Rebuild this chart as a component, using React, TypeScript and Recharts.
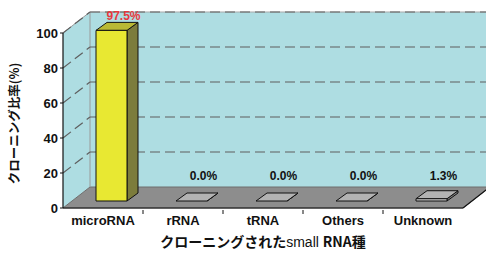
import React from 'react';
import { BarChart, Bar, XAxis, YAxis, CartesianGrid, LabelList } from 'recharts';

const categories = ['microRNA', 'rRNA', 'tRNA', 'Others', 'Unknown'];
const percentages = [97.5, 0.0, 0.0, 0.0, 1.3];
const valueLabels = ['97.5%', '0.0%', '0.0%', '0.0%', '1.3%'];
const yTicks = [0, 20, 40, 60, 80, 100];

const data = categories.map((name, i) => ({ name, value: percentages[i], label: valueLabels[i] }));

// depth of the 3D box and of the bars
const WALL_DX = 27;
const WALL_DY = 21;
const BAR_SHIFT_X = 8;
const BAR_SHIFT_Y = 7;
const BAR_DX = 11;
const BAR_DY = 8;

const WALL_FILL = '#aedde2';
const FLOOR_FILL = '#8d8d8d';
const GRID_STROKE = '#5f5f5f';

const yellowBar = { front: '#e8e832', side: '#7c7c3c', top: '#b9b935' };
const grayBar = { front: '#c4c4c4', side: '#7e7e7e', top: '#b3b3b3' };
const barColors = [yellowBar, grayBar, grayBar, grayBar, grayBar];
const labelColors = ['#e8383d', '#111', '#111', '#111', '#111'];

const latin = '"Liberation Sans", Arial, sans-serif';
const cjk = '"Noto Sans CJK JP", "Liberation Sans", sans-serif';

const gridLine = (props: any) => {
  const { x, y, width, height, x1, y1, x2, index } = props;
  const bottom = y + height;
  const isTop = Math.abs(y1 - y) < 0.5;
  const isBottom = Math.abs(y1 - bottom) < 0.5;
  return (
    <g key={`grid-${index}`}>
      {index === 0 && (
        <g>
          <polygon
            points={`${x},${y} ${x + WALL_DX},${y - WALL_DY} ${x + WALL_DX},${bottom - WALL_DY} ${x},${bottom}`}
            fill={WALL_FILL}
          />
          <rect x={x + WALL_DX} y={y - WALL_DY} width={width} height={height} fill={WALL_FILL} />
          <polygon
            points={`${x},${bottom} ${x + WALL_DX},${bottom - WALL_DY} ${x + width + WALL_DX},${bottom - WALL_DY} ${x + width},${bottom}`}
            fill={FLOOR_FILL}
            stroke="#6e6e6e"
            strokeWidth={1}
          />
          <line x1={x + WALL_DX} y1={y - WALL_DY} x2={x + WALL_DX} y2={bottom - WALL_DY} stroke="#9a9a9a" />
          <line x1={x + width} y1={bottom} x2={x + width + WALL_DX} y2={bottom - WALL_DY} stroke="#111" strokeWidth={1.2} />
        </g>
      )}
      {isTop && (
        <g>
          <line x1={x} y1={y} x2={x + WALL_DX} y2={y - WALL_DY} stroke="#9a9a9a" />
          <line x1={x + WALL_DX} y1={y - WALL_DY} x2={x2 + WALL_DX} y2={y - WALL_DY} stroke="#a8a8a8" />
        </g>
      )}
      {!isBottom && (
        <g stroke={GRID_STROKE} strokeWidth={1.2} strokeDasharray="10 5">
          <line x1={x1} y1={y1} x2={x1 + WALL_DX} y2={y1 - WALL_DY} />
          <line x1={x1 + WALL_DX} y1={y1 - WALL_DY} x2={x2 + WALL_DX} y2={y1 - WALL_DY} />
        </g>
      )}
    </g>
  );
};

const Bar3D = (props: any) => {
  const { x, y, width, height, index } = props;
  const c = barColors[index] || grayBar;
  const fx = x + BAR_SHIFT_X;
  const fy = y - BAR_SHIFT_Y;
  const h = Math.max(height, 0);
  return (
    <g stroke="#111" strokeWidth={1} strokeLinejoin="round">
      <polygon
        points={`${fx + width},${fy} ${fx + width + BAR_DX},${fy - BAR_DY} ${fx + width + BAR_DX},${fy + h - BAR_DY} ${fx + width},${fy + h}`}
        fill={c.side}
      />
      <polygon
        points={`${fx},${fy} ${fx + BAR_DX},${fy - BAR_DY} ${fx + width + BAR_DX},${fy - BAR_DY} ${fx + width},${fy}`}
        fill={c.top}
      />
      {h > 0 && <rect x={fx} y={fy} width={width} height={h} fill={c.front} />}
    </g>
  );
};

const renderValueLabel = (props: any) => {
  const { x, y, width, height, index } = props;
  const bottom = y + height;
  const cx = x + width / 2 + BAR_SHIFT_X + 12;
  const baseline = Math.min(y - BAR_SHIFT_Y - 10, bottom - WALL_DY - 7);
  return (
    <text
      x={cx}
      y={baseline}
      textAnchor="middle"
      fontFamily={latin}
      fontWeight="bold"
      fontSize={12}
      fill={labelColors[index]}
    >
      {valueLabels[index]}
    </text>
  );
};

const CategoryTick = (props: any) => {
  const { x, y, payload, index } = props;
  const half = payload && payload.offset ? payload.offset : 40;
  return (
    <g>
      {index < categories.length - 1 && (
        <line x1={x + half} y1={y - 6} x2={x + half} y2={y - 2} stroke="#111" />
      )}
      <text x={x} y={y + 9} textAnchor="middle" fontFamily={latin} fontWeight="bold" fontSize={13} fill="#111">
        {payload.value}
      </text>
    </g>
  );
};

const XTitle = (props: any) => {
  const { viewBox } = props;
  const cx = viewBox.x + viewBox.width / 2;
  return (
    <text x={cx} y={viewBox.y + 39} textAnchor="middle" fontSize={14} fill="#111">
      <tspan fontFamily={cjk} fontWeight="bold">クローニングされた</tspan>
      <tspan fontFamily={latin} fontWeight="normal">small </tspan>
      <tspan fontFamily={cjk} fontWeight="bold">RNA種</tspan>
    </text>
  );
};

const YTitle = (props: any) => {
  const { viewBox } = props;
  const cx = 13;
  const cy = viewBox.y + viewBox.height / 2 + 3;
  return (
    <text
      x={cx}
      y={cy}
      transform={`rotate(-90, ${cx}, ${cy})`}
      textAnchor="middle"
      dominantBaseline="central"
      fontFamily={cjk}
      fontWeight="bold"
      fontSize={12.5}
      fill="#111"
    >
      クローニング比率(%)
    </text>
  );
};

export default function App() {
  return (
    <div style={{ position: 'absolute', left: 0, top: 0, width: 486, height: 253, background: '#fff' }}>
      <BarChart width={486} height={253} data={data} margin={{ top: 33, right: 23, left: 23, bottom: 10 }} barSize={31}>
        <CartesianGrid horizontal={gridLine} vertical={false} />
        <XAxis
          dataKey="name"
          height={35}
          axisLine={{ stroke: '#111', strokeWidth: 1.2 }}
          tickLine={false}
          tick={<CategoryTick />}
          interval={0}
          label={<XTitle />}
        />
        <YAxis
          width={40}
          domain={[0, 100]}
          ticks={yTicks}
          axisLine={{ stroke: '#111', strokeWidth: 1.2 }}
          tickLine={{ stroke: '#111' }}
          tickSize={3}
          tickMargin={2}
          tick={{ fontFamily: latin, fontWeight: 'bold', fontSize: 13, fill: '#111' }}
          label={<YTitle />}
        />
        <Bar dataKey="value" shape={<Bar3D />} isAnimationActive={false}>
          <LabelList dataKey="value" content={renderValueLabel} />
        </Bar>
      </BarChart>
    </div>
  );
}
